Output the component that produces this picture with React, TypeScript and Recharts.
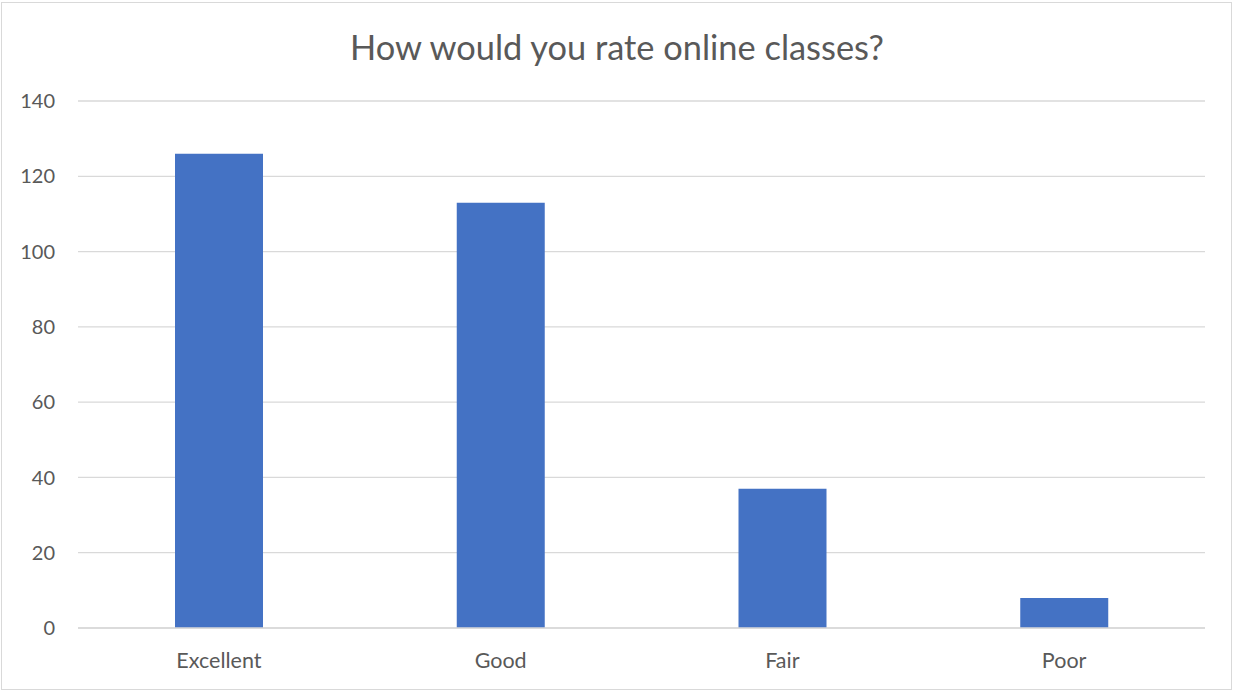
import { BarChart, Bar, XAxis, YAxis, CartesianGrid } from "recharts";

const categories = ["Excellent", "Good", "Fair", "Poor"];
const responses = [126, 113, 37, 8];
const yTicks = [0, 20, 40, 60, 80, 100, 120, 140];

const data = categories.map((name, i) => ({ name, value: responses[i] }));

const FONT = "Lato, 'Open Sans', sans-serif";
const TEXT = "#595959";

export default function App() {
  return (
    <div style={{ position: "absolute", left: 0, top: 0, width: 1234, height: 692, background: "#fff", fontFamily: FONT }}>
      {/* chart frame */}
      <div style={{
        position: "absolute", left: 1, top: 2, width: 1229, height: 686,
        border: "1px solid #d9d9d9",
      }} />
      <div style={{
        position: "absolute", left: 0, top: 27, width: 1234, textAlign: "center",
        fontSize: 34.4, color: TEXT, lineHeight: "40px",
      }}>
        How would you rate online classes?
      </div>
      <BarChart
        width={1234}
        height={692}
        data={data}
        margin={{ top: 101, right: 29, bottom: 24, left: 0 }}
        style={{ position: "absolute", left: 0, top: 0 }}
      >
        <CartesianGrid vertical={false} stroke="#d9d9d9" strokeWidth={1.3} />
        <XAxis
          dataKey="name"
          height={40}
          tickLine={false}
          tickSize={0}
          tickMargin={25}
          axisLine={{ stroke: "#d9d9d9", strokeWidth: 1.3 }}
          tick={{ fontSize: 21.5, fill: TEXT, fontFamily: FONT }}
        />
        <YAxis
          width={78}
          domain={[0, 140]}
          ticks={yTicks}
          interval={0}
          axisLine={false}
          tickLine={false}
          tickSize={0}
          tickMargin={23}
          tick={{ fontSize: 20, fill: TEXT, fontFamily: FONT }}
        />
        <Bar dataKey="value" fill="#4472c4" barSize={88} isAnimationActive={false} />
      </BarChart>
    </div>
  );
}
